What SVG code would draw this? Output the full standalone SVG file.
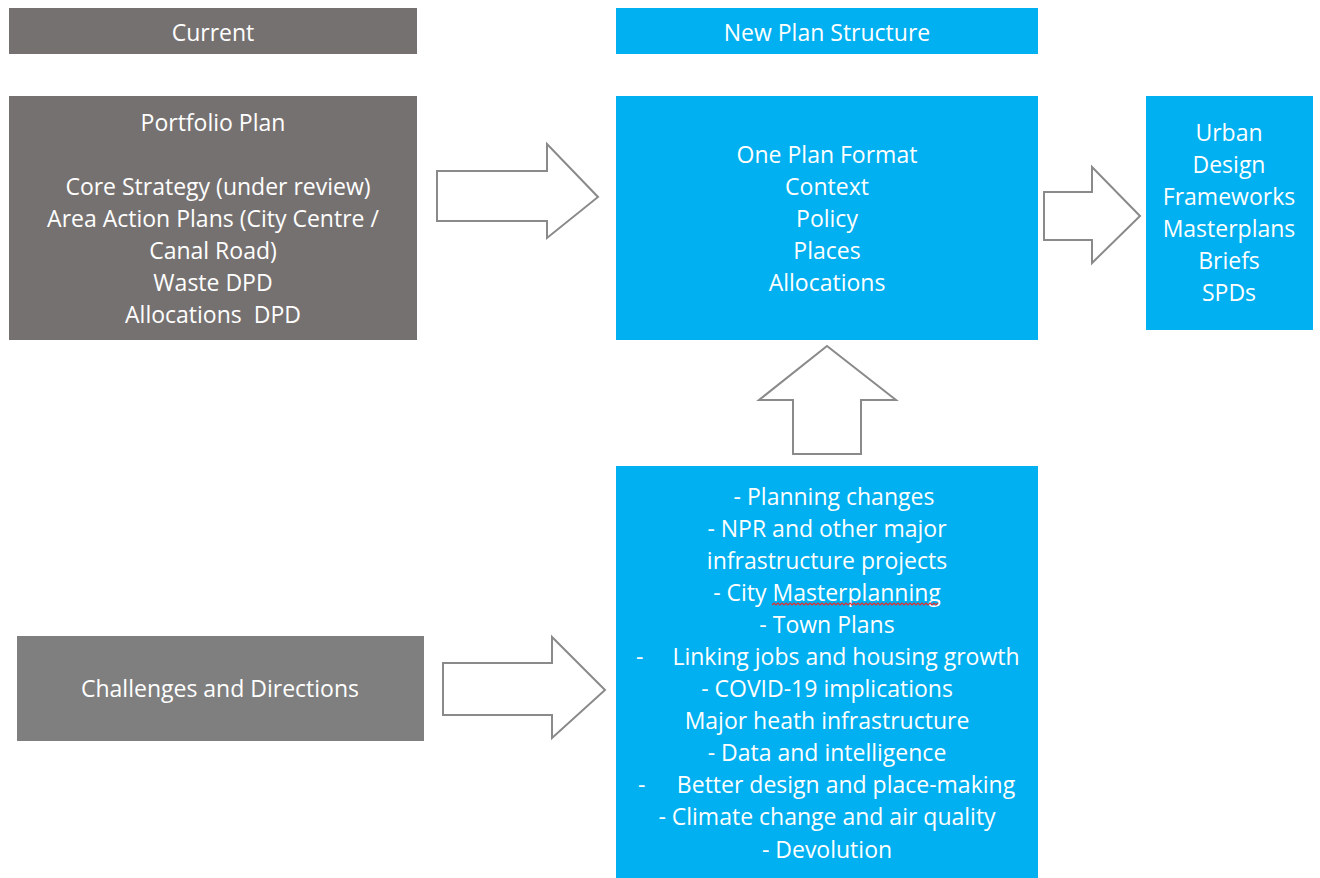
<svg xmlns="http://www.w3.org/2000/svg" width="1320" height="878" viewBox="0 0 1320 878">
<style>
.gray{fill:#767171}
.gray2{fill:#7f7f7f}
.blue{fill:#00b0f0}
.t{font-family:"Open Sans","Liberation Sans",sans-serif;font-size:23px;fill:#ffffff;text-anchor:middle}
.arr{fill:#ffffff;stroke:#8a8a8a;stroke-width:2;stroke-linejoin:miter}
</style>
<rect width="1320" height="878" fill="#ffffff"/>
<g id="current-header"><rect class="gray" x="9" y="8" width="408" height="46"/><text class="t" x="213" y="41">Current</text></g>
<g id="new-plan-header"><rect class="blue" x="616" y="8" width="422" height="46"/><text class="t" x="827" y="41">New Plan Structure</text></g>
<g id="portfolio">
<rect class="gray" x="9" y="96" width="408" height="244"/>
<text class="t" x="213" y="131">Portfolio Plan</text>
<text class="t" x="218" y="195">Core Strategy (under review)</text>
<text class="t" x="213" y="227">Area Action Plans (City Centre /</text>
<text class="t" x="213" y="259">Canal Road)</text>
<text class="t" x="213" y="291">Waste DPD</text>
<text class="t" x="213" y="323" xml:space="preserve">Allocations  DPD</text>
</g>
<g id="one-plan">
<rect class="blue" x="616" y="96" width="422" height="244"/>
<text class="t" x="827" y="163">One Plan Format</text>
<text class="t" x="827" y="195">Context</text>
<text class="t" x="827" y="227">Policy</text>
<text class="t" x="827" y="259">Places</text>
<text class="t" x="827" y="291">Allocations</text>
</g>
<g id="urban">
<rect class="blue" x="1146" y="96" width="167" height="234"/>
<text class="t" x="1229" y="141">Urban</text>
<text class="t" x="1229" y="173">Design</text>
<text class="t" x="1229" y="205">Frameworks</text>
<text class="t" x="1229" y="237">Masterplans</text>
<text class="t" x="1229" y="269">Briefs</text>
<text class="t" x="1229" y="301">SPDs</text>
</g>
<g id="challenges">
<rect class="gray2" x="17" y="636" width="407" height="105"/>
<text class="t" x="220" y="697">Challenges and Directions</text>
</g>
<g id="drivers">
<rect class="blue" x="616" y="466" width="422" height="412"/>
<text class="t" x="834" y="505">- Planning changes</text>
<text class="t" x="827" y="537">- NPR and other major</text>
<text class="t" x="827" y="569">infrastructure projects</text>
<text class="t" x="827" y="601">- City Masterplanning</text>
<path d="M772 605 l2 -2 l2 2 l2 -2 l2 2 l2 -2 l2 2 l2 -2 l2 2 l2 -2 l2 2 l2 -2 l2 2 l2 -2 l2 2 l2 -2 l2 2 l2 -2 l2 2 l2 -2 l2 2 l2 -2 l2 2 l2 -2 l2 2 l2 -2 l2 2 l2 -2 l2 2 l2 -2 l2 2 l2 -2 l2 2 l2 -2 l2 2 l2 -2 l2 2 l2 -2 l2 2 l2 -2 l2 2 l2 -2 l2 2 l2 -2 l2 2 l2 -2 l2 2 l2 -2 l2 2 l2 -2 l2 2 l2 -2 l2 2 l2 -2 l2 2 l2 -2 l2 2 l2 -2 l2 2 l2 -2 l2 2 l2 -2 l2 2 l2 -2 l2 2 l2 -2 l2 2 l2 -2 l2 2 l2 -2 l2 2 l2 -2 l2 2 l2 -2 l2 2 l2 -2 l2 2 l2 -2 l2 2 l2 -2 l2 2 l2 -2 l2 2 l2 -2" fill="none" stroke="#e03030" stroke-width="1.2"/>
<text class="t" x="827" y="633">- Town Plans</text>
<text class="t" x="636" y="665" style="text-anchor:start">-</text>
<text class="t" x="846" y="665">Linking jobs and housing growth</text>
<text class="t" x="827" y="697">- COVID-19 implications</text>
<text class="t" x="827" y="729">Major heath infrastructure</text>
<text class="t" x="827" y="761">- Data and intelligence</text>
<text class="t" x="638" y="793" style="text-anchor:start">-</text>
<text class="t" x="846" y="793">Better design and place-making</text>
<text class="t" x="827" y="825">- Climate change and air quality</text>
<text class="t" x="827" y="858">- Devolution</text>
</g>
<g id="connectors">
<polygon class="arr" points="437,171 547,171 547,144 598,197 547,238 547,221 437,221"/>
<polygon class="arr" points="793,454 793,400 759,400 827,346 896,400 861,400 861,454"/>
<polygon class="arr" points="1044,192 1092,192 1092,167 1140,216 1092,263 1092,240 1044,240"/>
<polygon class="arr" points="443,663 552,663 552,637 605,690 552,738 552,715 443,715"/>
</g>
</svg>
